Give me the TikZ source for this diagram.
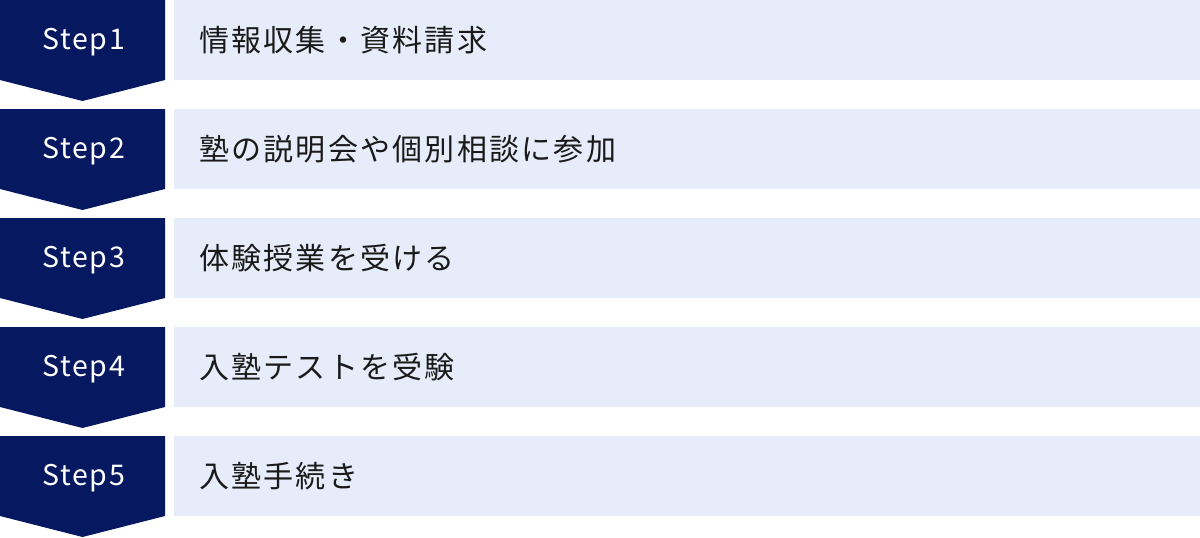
\documentclass[tikz,border=0pt]{standalone}
\usepackage{fontspec}
\setmainfont{Noto Sans CJK JP}
\newfontfamily\jpfont[LetterSpace=7.5]{Noto Sans CJK JP}
\newfontfamily\stepfont[LetterSpace=6]{Noto Sans CJK JP}
\definecolor{navy}{HTML}{06185F}
\definecolor{lightbox}{HTML}{E6ECF9}
\definecolor{ink}{HTML}{1A1A1A}
\tikzset{
  stepshape/.style={fill=navy, draw=none},
  steplabel/.style={text=white, font=\stepfont\fontsize{28.5}{32}\selectfont, inner sep=0pt, anchor=center},
  itembox/.style={fill=lightbox, draw=none, minimum width=1026pt, minimum height=80pt, inner sep=0pt, anchor=north west},
  itemtext/.style={text=ink, font=\jpfont\fontsize{30}{34}\selectfont, inner sep=0pt, anchor=west},
}
\begin{document}
\begin{tikzpicture}[x=1pt,y=-1pt]
\useasboundingbox (0,0) rectangle (1200,538);
\foreach \i/\lab/\txt in {0/Step1/情報収集・資料請求, 1/Step2/塾の説明会や個別相談に参加, 2/Step3/体験授業を受ける, 3/Step4/入塾テストを受験, 4/Step5/入塾手続き}{
  \pgfmathsetmacro{\t}{109*\i}
  \fill[stepshape] (0,\t) -- (165,\t) -- (165,\t+80) -- (82.5,\t+101) -- (0,\t+80) -- cycle;
  \node[steplabel] (s\i) at (83.5,\t+42) {\lab};
  \node[itembox] (b\i) at (174,\t) {};
  \node[itemtext] (t\i) at (199,\t+40.5) {\txt};
}
\end{tikzpicture}
\end{document}
